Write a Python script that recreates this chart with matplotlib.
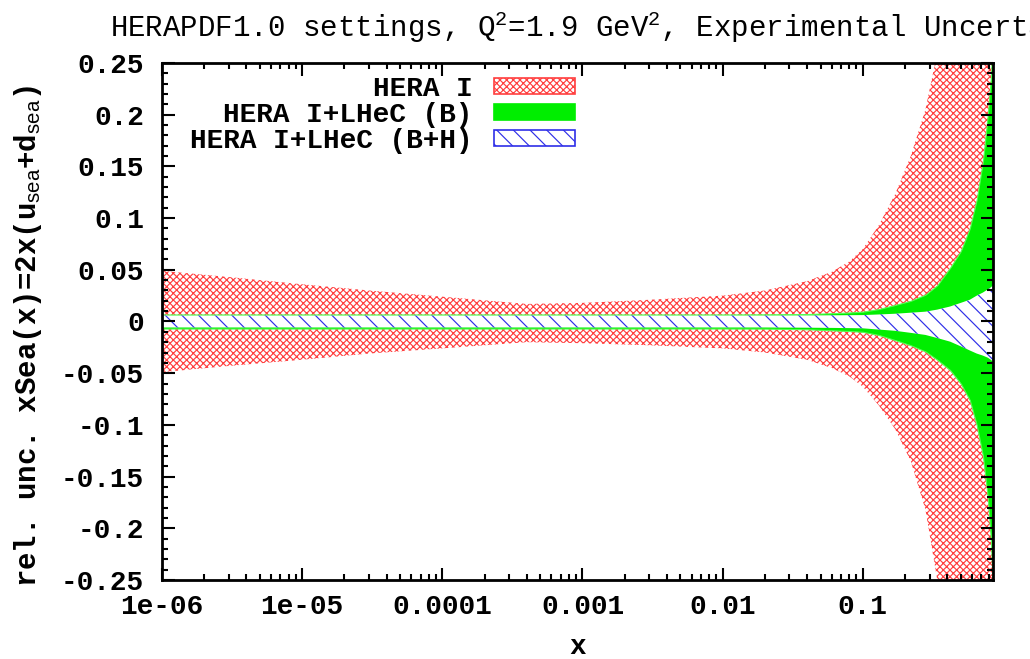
import matplotlib
matplotlib.use("Agg")
import matplotlib.pyplot as plt
from matplotlib.patches import Patch

# x grid and relative uncertainty envelopes of xSea at Q2 = 1.9 GeV2
x = [1e-6, 3e-6, 1e-5, 3e-5, 1e-4, 4e-4, 1e-3, 3e-3, 1e-2, 2e-2, 4e-2, 6e-2, 0.08,
     0.1, 0.13, 0.17, 0.22, 0.28, 0.34, 0.42, 0.5, 0.58, 0.65, 0.72, 0.78, 0.82, 0.85]

hera_up = [0.049, 0.043, 0.036, 0.030, 0.024, 0.017, 0.018, 0.021, 0.025, 0.030, 0.039, 0.048, 0.058,
           0.070, 0.093, 0.123, 0.160, 0.205, 0.260, 0.340, 0.430, 0.520, 0.600, 0.680, 0.750, 0.800, 0.850]
hera_lo = [-0.049, -0.043, -0.037, -0.031, -0.026, -0.020, -0.021, -0.023, -0.026, -0.030, -0.037, -0.045, -0.053,
           -0.063, -0.081, -0.104, -0.135, -0.182, -0.250, -0.340, -0.430, -0.520, -0.600, -0.680, -0.750, -0.800, -0.850]

lhec_b_up = [0.0068, 0.0068, 0.0068, 0.0068, 0.0068, 0.0068, 0.0068, 0.0068, 0.0068, 0.0069, 0.0072, 0.0080, 0.0087,
             0.0095, 0.012, 0.016, 0.020, 0.026, 0.035, 0.052, 0.068, 0.090, 0.118, 0.155, 0.200, 0.235, 0.280]
lhec_b_lo = [-0.0068, -0.0068, -0.0068, -0.0068, -0.0068, -0.0068, -0.0068, -0.0068, -0.0068, -0.0069, -0.0075, -0.0085, -0.0092,
             -0.010, -0.013, -0.018, -0.023, -0.029, -0.037, -0.047, -0.060, -0.076, -0.100, -0.130, -0.170, -0.210, -0.260]

lhec_bh_up = [0.0058, 0.0058, 0.0058, 0.0058, 0.0058, 0.0058, 0.0058, 0.0058, 0.0058, 0.0058, 0.0059, 0.0060, 0.0061,
              0.0062, 0.0068, 0.0075, 0.0085, 0.0095, 0.0115, 0.0145, 0.018, 0.021, 0.025, 0.028, 0.031, 0.033, 0.035]
lhec_bh_lo = [-0.0058, -0.0058, -0.0058, -0.0058, -0.0058, -0.0058, -0.0058, -0.0058, -0.0058, -0.0058, -0.0060, -0.0062, -0.0064,
              -0.0066, -0.0078, -0.0090, -0.011, -0.013, -0.016, -0.0195, -0.024, -0.028, -0.031, -0.033, -0.035, -0.037, -0.039]

labels = ["HERA I", "HERA I+LHeC (B)", "HERA I+LHeC (B+H)"]

xticks = [1e-6, 1e-5, 1e-4, 1e-3, 1e-2, 1e-1]
xticklabels = ["1e-06", "1e-05", "0.0001", "0.001", "0.01", "0.1"]
yticks = [0.25, 0.2, 0.15, 0.1, 0.05, 0, -0.05, -0.1, -0.15, -0.2, -0.25]
yticklabels = ["0.25", "0.2", "0.15", "0.1", "0.05", "0", "-0.05", "-0.1", "-0.15", "-0.2", "-0.25"]

plt.rcParams["font.family"] = ["Liberation Mono", "DejaVu Sans Mono"]
plt.rcParams["mathtext.fontset"] = "custom"
plt.rcParams["mathtext.rm"] = "Liberation Mono"
plt.rcParams["mathtext.sf"] = "Liberation Sans"
plt.rcParams["hatch.linewidth"] = 0.85

fig = plt.figure(figsize=(10.30, 6.59), dpi=100)
ax = fig.add_axes([0.1573, 0.1199, 0.8068, 0.7845])

red = "#ff4040"
green = "#00ee00"
blue = "#2f2fe8"

ax.fill_between(x, hera_lo, hera_up, facecolor="white", edgecolor=red, hatch="xxxxx", linewidth=0)
ax.fill_between(x, lhec_b_lo, lhec_b_up, facecolor=green, edgecolor="#55ff55", linewidth=0.8)
ax.fill_between(x, lhec_bh_lo, lhec_bh_up, facecolor="white", edgecolor=blue, hatch="\\\\", linewidth=0)

ax.set_xscale("log")
ax.set_xlim(1e-6, 0.85)
ax.set_ylim(-0.25, 0.25)

ax.set_xticks(xticks)
ax.set_xticklabels(xticklabels)
ax.set_yticks(yticks)
ax.set_yticklabels(yticklabels)
ax.set_yticks([v / 100 for v in range(-25, 26)], minor=True)

ax.tick_params(which="both", direction="in", top=True, right=True, width=1.5)
ax.tick_params(which="major", length=9, labelsize=20)
ax.tick_params(which="minor", length=4.5)
ax.tick_params(axis="x", which="major", pad=10)
ax.tick_params(axis="y", which="major", pad=13)
for t in ax.get_xticklabels() + ax.get_yticklabels():
    t.set_fontweight("bold")
for s in ax.spines.values():
    s.set_linewidth(2)

ax.set_xlabel("x", fontsize=20, fontweight="bold", va="center")
ax.xaxis.set_label_coords(0.5, -0.13)
ax.set_ylabel(r"rel. unc. xSea(x)=2x(u$_{\mathsf{sea}}$+d$_{\mathsf{sea}}$)",
              fontsize=21, fontweight="bold", va="center")
ax.yaxis.set_label_coords(-0.161, 0.472)

fig.text(110 / 1030, 1 - 27 / 659,
         r"HERAPDF1.0 settings, Q$^{\mathrm{2}}$=1.9 GeV$^{\mathrm{2}}$, Experimental Uncertainties",
         fontsize=21, ha="left", va="center")

handles = [
    Patch(facecolor="white", edgecolor=red, hatch="xxxxx", linewidth=1.2),
    Patch(facecolor=green, edgecolor=green, linewidth=1.2),
    Patch(facecolor="white", edgecolor=blue, hatch="\\\\", linewidth=1.2),
]
leg = ax.legend(handles, labels, loc="upper right", bbox_to_anchor=(0.497, 0.975),
                frameon=False, markerfirst=False, borderpad=0, borderaxespad=0,
                handlelength=2.9, handleheight=0.55, handletextpad=0.8, labelspacing=0.0,
                prop={"size": 20, "weight": "bold"})

fig.savefig("out.png", dpi=100)
